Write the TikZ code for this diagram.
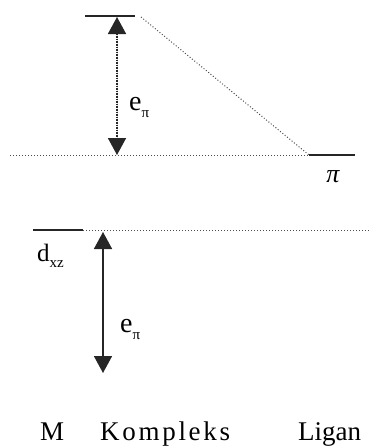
\documentclass[tikz,border=0pt]{standalone}
\usepackage{fontspec}
\setmainfont{Liberation Serif}
\usetikzlibrary{arrows.meta,positioning}
\newcommand{\lowidx}[1]{\raisebox{-0.25em}{\fontsize{15}{15}\selectfont #1}}
\tikzset{
  level/.style={line width=1.3pt,draw=black!85},
  guide/.style={dotted,line width=1pt,draw=black!70},
  gaparrow/.style={{Triangle[length=17pt,width=18pt]}-{Triangle[length=17pt,width=18pt]},
    line width=1.6pt,draw=black!85,fill=black!85},
  lbl/.style={inner sep=0pt,anchor=base west,font=\fontsize{27}{30}\selectfont},
  gaplbl/.style={inner sep=0pt,anchor=base west,font=\fontsize{28}{30}\selectfont},
}
\begin{document}
\begin{tikzpicture}[x=1pt,y=-1pt]
  \useasboundingbox (0,0) rectangle (369,447);
  % levels
  \coordinate (topL) at (85,16);  \coordinate (topR) at (135,16);
  \coordinate (piL) at (309,155); \coordinate (piR) at (355,155);
  \coordinate (dL) at (33,230);   \coordinate (dR) at (83,230);
  \draw[level] (topL) -- (topR);
  \draw[level] (piL) -- (piR);
  \draw[level] (dL) -- (dR);
  % correlation lines
  \coordinate (guideL) at (10,155);
  \coordinate (guideE) at (369,230);
  \draw[guide] (141,17) -- (piL);
  \draw[guide] (guideL) -- (piL);
  \draw[guide] (dR) -- (guideE);
  % splittings
  \coordinate (upA) at (117,17);  \coordinate (upB) at (117,155);
  \coordinate (lowA) at (103,232); \coordinate (lowB) at (103,373);
  \draw[gaparrow,densely dotted] (upA) -- (upB);
  \draw[gaparrow] (lowA) -- (lowB);
  % labels
  \node[gaplbl] (eup) at (129,110) {e\lowidx{π}};
  \node[gaplbl] (elow) at (120,332) {e\lowidx{π}};
  \node[inner sep=0pt,font=\fontsize{26}{28}\selectfont\itshape] (pi) at (333,177) {π};
  \node[lbl,font=\fontsize{25}{28}\selectfont] (dxz) at (37,261) {d\lowidx{xz}};
  \node[lbl] (M) at (40,440) {M};
  \node[lbl,font=\fontsize{27}{30}\selectfont\addfontfeature{LetterSpace=10}] (kompleks) at (100,440) {Kompleks};
  \node[lbl] (ligan) at (298,440) {Ligan};
\end{tikzpicture}
\end{document}
